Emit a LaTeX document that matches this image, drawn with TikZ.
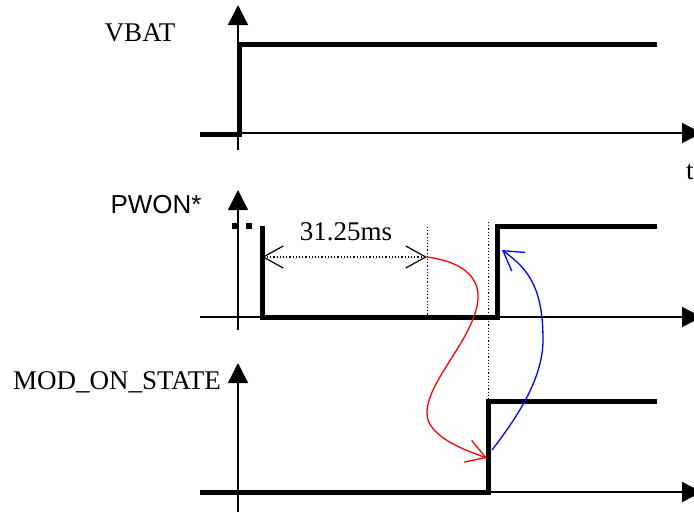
\documentclass[tikz,border=0pt]{standalone}
\usepackage{fontspec}
\setmainfont{Liberation Serif}
\newfontfamily\arialfont{Liberation Sans}
\usetikzlibrary{arrows.meta}
\begin{document}
\begin{tikzpicture}[x=1pt,y=-1pt,
  axis/.style={line width=1.3pt,-{Triangle[length=20pt,width=20pt]}},
  wave/.style={line width=5pt,line join=miter},
  lbl/.style={font=\fontsize{27}{32}\selectfont,inner sep=0pt},
  guide/.style={line width=1pt,dash pattern=on 1.2pt off 2pt},
  barb/.style={line width=1.2pt,{Straight Barb[length=20pt,width=22pt]}-{Straight Barb[length=20pt,width=22pt]}},
  curvearrow/.style={line width=1.3pt,-{Straight Barb[length=19pt,width=23pt]}}]
\useasboundingbox (0,0) rectangle (694,512);
% labels
\node[lbl] (lvbat) at (140,33) {VBAT};
\node[lbl,font=\arialfont\fontsize{26}{30}\selectfont] (lpwon) at (156,205) {PWON*};
\node[lbl] (lmod) at (117,382) {MOD\_ON\_STATE};
\node[lbl] (ldim) at (346,232) {31.25ms};
\node[lbl,anchor=west] (lt) at (686,172) {t};
% axes
\draw[axis] (238,150) -- (238,5);
\draw[axis] (238,133) -- (702,133);
\draw[axis] (238,330) -- (238,190);
\draw[axis] (200,317) -- (702,317);
\draw[axis] (238,512) -- (238,363);
\draw[axis] (488,492) -- (702,492);
% waveforms
\draw[wave] (200,134) -- (239,134) -- (239,44) -- (657,44);
\fill (232,223) rectangle (238.5,229);
\fill (246,223) rectangle (252,229);
\draw[wave] (262,226) -- (262,317) -- (497,317) -- (497,226) -- (657,226);
\draw[wave] (200,492) -- (488,492) -- (488,401) -- (657,401);
% guides
\coordinate (dimL) at (262,257);
\coordinate (dimR) at (427,257);
\draw[guide] (427,227) -- (427,317);
\draw[guide] (488,222) -- (488,400);
\draw[guide,barb] (dimL) -- (dimR);
% causal arrows
\coordinate (redE) at (487,458);
\coordinate (blueS) at (492,450);
\coordinate (blueE) at (502,250);
\draw[red,curvearrow] (dimR) .. controls (465,262) and (485,280) .. (476,310)
  .. controls (465,350) and (420,390) .. (428,420)
  .. controls (435,440) and (470,452) .. (redE);
\draw[blue,curvearrow] (blueS) .. controls (515,420) and (543,380) .. (543,340)
  .. controls (543,290) and (530,270) .. (blueE);
\end{tikzpicture}
\end{document}
